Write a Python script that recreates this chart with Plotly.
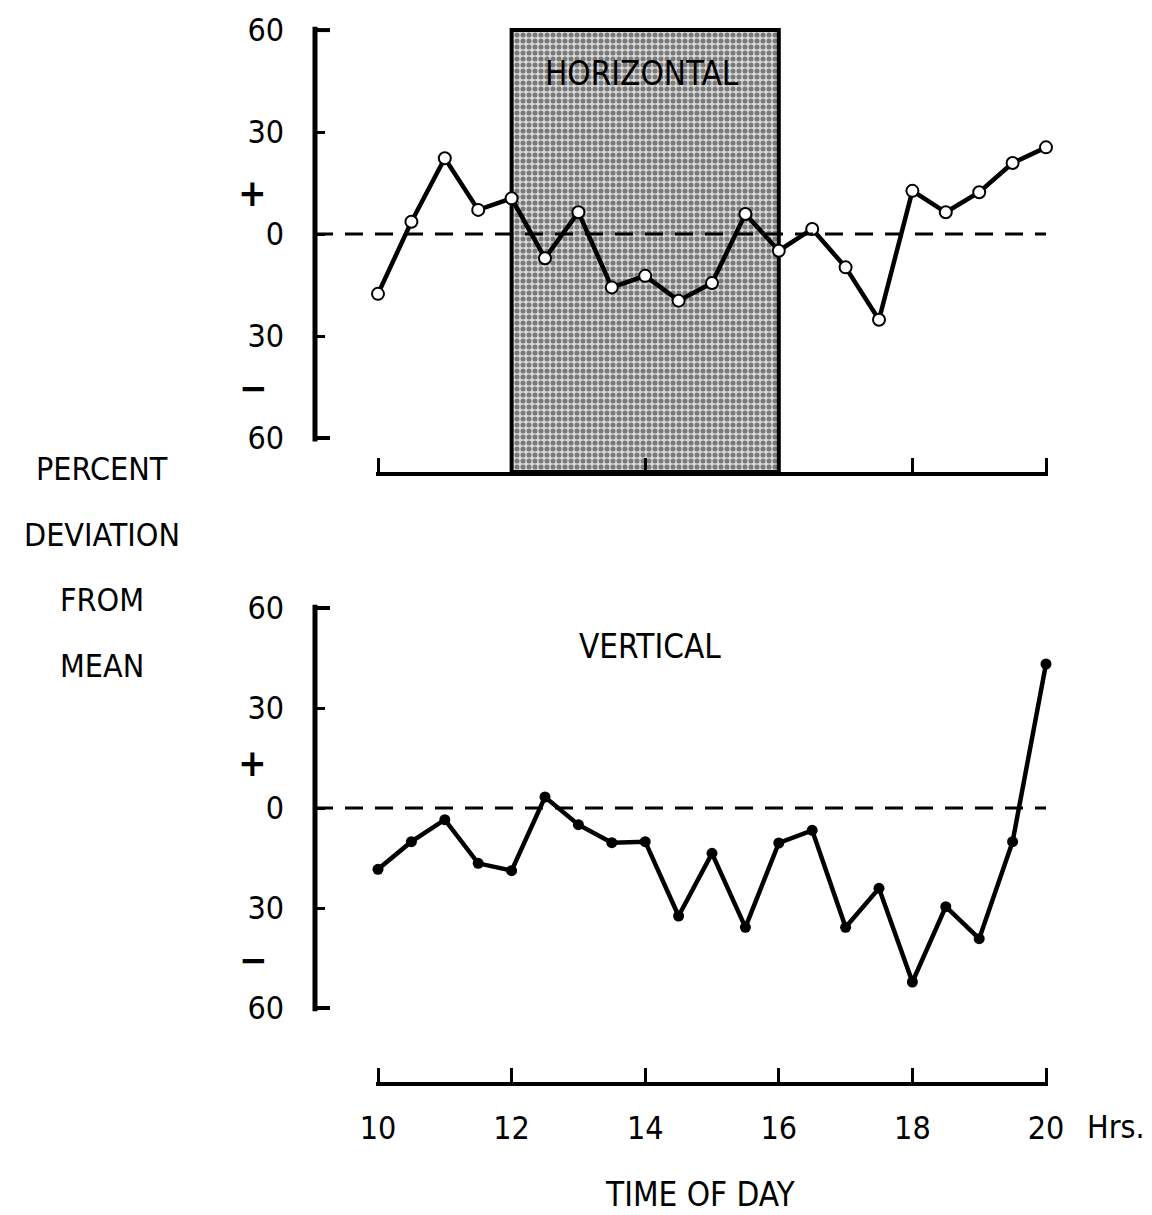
import plotly.graph_objects as go

# ---- data ----
hours = [10, 10.5, 11, 11.5, 12, 12.5, 13, 13.5, 14, 14.5, 15, 15.5, 16, 16.5,
         17, 17.5, 18, 18.5, 19, 19.5, 20]
horizontal_dev = [-17.6, 3.6, 22.3, 7.1, 10.5, -7.1, 6.4, -15.7, -12.3, -19.6, -14.4,
                  5.9, -4.9, 1.5, -9.8, -25.2, 12.7, 6.4, 12.3, 20.9, 25.5]
vertical_dev = [-18.4, -10.1, -3.5, -16.6, -18.8, 3.3, -5.0, -10.4, -10.1, -32.4, -13.6,
                -35.8, -10.5, -6.7, -35.8, -24.1, -52.2, -29.6, -39.2, -10.1, 43.2]
horizontal_period = [12, 16]
x_ticks = [10, 12, 14, 16, 18, 20]
y_tickvals = [60, 30, 0, -30, -60]
y_ticktext = ["60", "30", "0", "30", "60"]

W, H = 1152, 1215
FONT = "DejaVu Sans Condensed, Liberation Sans Narrow, Arial Narrow, sans-serif"

# layout geometry (pixels -> paper)
def px(x):
    return x / W

def py(y):
    return 1 - y / H

x_range = [9.97, 20.03]
x_dom = [px(376), px(1048)]
yaxis_pos = px(315)
top_dom = [py(472), py(26)]
bot_dom = [py(1082), py(604)]
top_range = [-70, 61.2]
bot_range = [-82.2, 61.2]

fig = go.Figure()

# shaded horizontal period
x0, x1 = horizontal_period
fig.add_trace(go.Scatter(
    x=[x0, x1, x1, x0, x0],
    y=[top_range[0], top_range[0], 60, 60, top_range[0]],
    xaxis="x", yaxis="y", mode="lines", fill="toself",
    fillcolor="#c8c8c8",
    fillpattern=dict(shape=".", fgcolor="#1a1a1a", bgcolor="#dadada", size=6, solidity=0.55),
    line=dict(color="black", width=4), hoverinfo="skip", showlegend=False))

fig.add_trace(go.Scatter(
    x=hours, y=horizontal_dev, xaxis="x", yaxis="y", mode="lines+markers",
    line=dict(color="black", width=4.5),
    marker=dict(symbol="circle", size=12, color="white", line=dict(color="black", width=2)),
    cliponaxis=False, showlegend=False))

fig.add_trace(go.Scatter(
    x=hours, y=vertical_dev, xaxis="x2", yaxis="y2", mode="lines+markers",
    line=dict(color="black", width=4.5),
    marker=dict(symbol="circle", size=11, color="black"),
    cliponaxis=False, showlegend=False))

axis_font = dict(family=FONT, size=32, color="black")

common_x = dict(range=x_range, domain=x_dom, showline=True, linecolor="black", linewidth=4,
                ticks="inside", ticklen=14, tickwidth=3, tickcolor="black",
                tickvals=x_ticks, showgrid=False, zeroline=False, fixedrange=True,
                automargin=False)
common_y = dict(anchor="free", position=yaxis_pos, showline=False, ticks="inside",
                ticklen=9, tickwidth=3, tickcolor="black", tickvals=y_tickvals,
                ticktext=y_ticktext, tickfont=axis_font, ticklabelstandoff=31,
                showgrid=False, zeroline=False, fixedrange=True, automargin=False)

fig.update_layout(
    width=W, height=H, autosize=False,
    margin=dict(l=0, r=0, t=0, b=0, pad=0, autoexpand=False),
    paper_bgcolor="white", plot_bgcolor="rgba(0,0,0,0)",
    font=dict(family=FONT, color="black"),
    xaxis=dict(**common_x, anchor="y", showticklabels=False),
    yaxis=dict(**common_y, domain=top_dom, range=top_range),
    xaxis2=dict(**common_x, anchor="y2", showticklabels=True, tickfont=axis_font,
                ticklabelstandoff=15),
    yaxis2=dict(**common_y, domain=bot_dom, range=bot_range),
)

shapes = []
for yref in ["y", "y2"]:
    # vertical bracket axis
    shapes.append(dict(type="line", xref="paper", yref=yref, x0=yaxis_pos, x1=yaxis_pos,
                       y0=-61, y1=61, line=dict(color="black", width=5), layer="above"))
    for v in (60, -60):
        shapes.append(dict(type="line", xref="paper", yref=yref, x0=yaxis_pos,
                           x1=yaxis_pos + px(15), y0=v, y1=v,
                           line=dict(color="black", width=4), layer="above"))
    # dashed zero line
    shapes.append(dict(type="line", xref="paper", yref=yref, x0=yaxis_pos, x1=px(1046),
                       y0=0, y1=0, line=dict(color="black", width=3, dash="18px,12px"),
                       layer="above"))
fig.update_layout(shapes=shapes)

ann = []
def add_text(text, x, y, size=33, xanchor="center"):
    ann.append(dict(text=text, x=px(x), y=py(y), xref="paper", yref="paper",
                    xanchor=xanchor, yanchor="middle", showarrow=False,
                    font=dict(family=FONT, size=size, color="black")))

add_text("HORIZONTAL", 642, 74, size=33)
add_text("VERTICAL", 650, 646, size=33)
for t, y in [("PERCENT", 469), ("DEVIATION", 535), ("FROM", 600), ("MEAN", 666)]:
    add_text(t, 102, y, size=32)
add_text("<b>+</b>", 252, 193, size=38)
add_text("<b>−</b>", 253, 388, size=38)
add_text("<b>+</b>", 252, 763, size=38)
add_text("<b>−</b>", 253, 960, size=38)
add_text("Hrs.", 1085, 1127, size=32, xanchor="left")
add_text("TIME OF DAY", 700, 1194, size=33)
fig.update_layout(annotations=ann)

fig.write_html("out.html", config={"displayModeBar": False},
               post_script="document.body.style.margin='0px';document.body.style.overflow='hidden';")
